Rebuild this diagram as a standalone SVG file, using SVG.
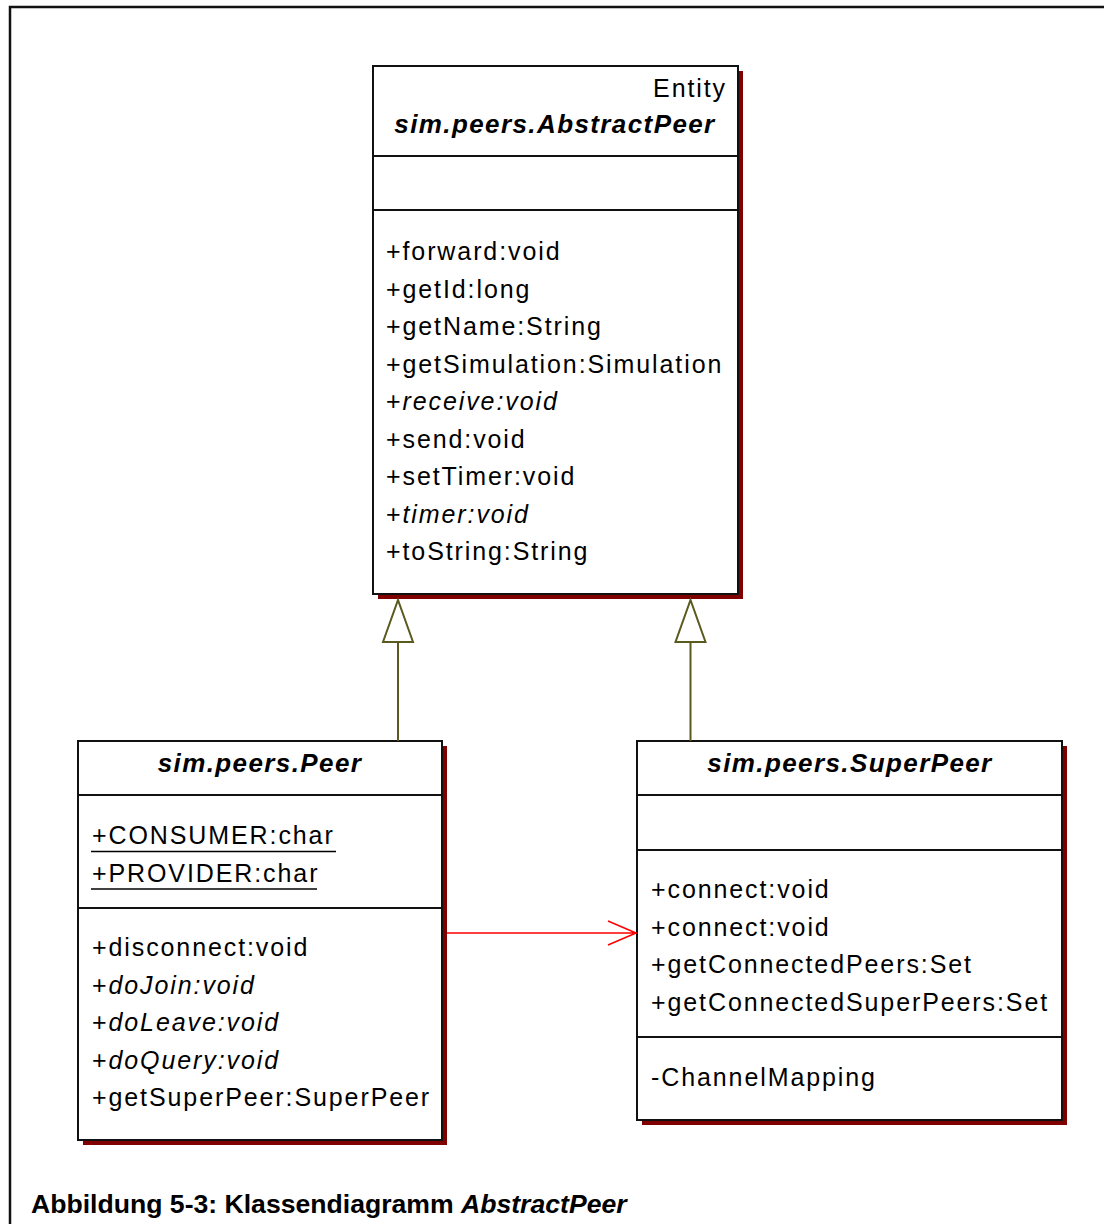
<svg xmlns="http://www.w3.org/2000/svg" width="1104" height="1224" viewBox="0 0 1104 1224">
<style>
.bg{fill:#fff}
.shadow{fill:#800000}
.box{fill:#fff;stroke:#111;stroke-width:2}
.div{stroke:#111;stroke-width:2}
.t{font-family:"Liberation Sans",Arial,sans-serif;font-size:25px;letter-spacing:1.9px;fill:#000}
.i{font-style:italic}
.title{font-family:"Liberation Sans",Arial,sans-serif;font-size:26px;font-weight:bold;font-style:italic;letter-spacing:1.4px;fill:#000;text-anchor:middle}
.ul{stroke:#000;stroke-width:1.5}
.gen{stroke:#5a5a1e;stroke-width:2;fill:none}
.assoc{stroke:#ff0000;stroke-width:1.6;fill:none}
.cap{font-family:"Liberation Sans",Arial,sans-serif;font-size:26.6px;font-weight:bold;fill:#000}
</style>
<rect class="bg" x="0" y="0" width="1104" height="1224"/>
<path d="M10 1224 V7 H1104" fill="none" stroke="#111" stroke-width="2.5"/>

<g id="AbstractPeer">
<rect class="shadow" x="378" y="71" width="365" height="528"/>
<rect class="box" x="373" y="66" width="365" height="528"/>
<line class="div" x1="373" y1="156" x2="738" y2="156"/>
<line class="div" x1="373" y1="210" x2="738" y2="210"/>
<text class="t" x="727" y="97" text-anchor="end" letter-spacing="0.5">Entity</text>
<text class="title" x="555" y="133">sim.peers.AbstractPeer</text>
<text class="t" x="386" y="260">+forward:void</text>
<text class="t" x="386" y="297.5">+getId:long</text>
<text class="t" x="386" y="335">+getName:String</text>
<text class="t" x="386" y="372.5">+getSimulation:Simulation</text>
<text class="t" x="386" y="410">+<tspan class="i">receive:void</tspan></text>
<text class="t" x="386" y="447.5">+send:void</text>
<text class="t" x="386" y="485">+setTimer:void</text>
<text class="t" x="386" y="522.5">+<tspan class="i">timer:void</tspan></text>
<text class="t" x="386" y="560">+toString:String</text>
</g>

<g id="Peer">
<rect class="shadow" x="83" y="746" width="364" height="399"/>
<rect class="box" x="78" y="741" width="364" height="399"/>
<line class="div" x1="78" y1="795" x2="442" y2="795"/>
<line class="div" x1="78" y1="908" x2="442" y2="908"/>
<text class="title" x="260" y="772">sim.peers.Peer</text>
<text class="t" x="92" y="844">+CONSUMER:char</text>
<line class="ul" x1="91" y1="851.5" x2="336" y2="851.5"/>
<text class="t" x="92" y="881.5">+PROVIDER:char</text>
<line class="ul" x1="91" y1="889" x2="317" y2="889"/>
<text class="t" x="92" y="956">+disconnect:void</text>
<text class="t" x="92" y="994">+<tspan class="i">doJoin:void</tspan></text>
<text class="t" x="92" y="1031">+<tspan class="i">doLeave:void</tspan></text>
<text class="t" x="92" y="1069">+<tspan class="i">doQuery:void</tspan></text>
<text class="t" x="92" y="1106">+getSuperPeer:SuperPeer</text>
</g>

<g id="SuperPeer">
<rect class="shadow" x="642" y="746" width="425" height="379"/>
<rect class="box" x="637" y="741" width="425" height="379"/>
<line class="div" x1="637" y1="795" x2="1062" y2="795"/>
<line class="div" x1="637" y1="850" x2="1062" y2="850"/>
<line class="div" x1="637" y1="1037" x2="1062" y2="1037"/>
<text class="title" x="850" y="772">sim.peers.SuperPeer</text>
<text class="t" x="651" y="898">+connect:void</text>
<text class="t" x="651" y="936">+connect:void</text>
<text class="t" x="651" y="973">+getConnectedPeers:Set</text>
<text class="t" x="651" y="1011">+getConnectedSuperPeers:Set</text>
<text class="t" x="651" y="1086">-ChannelMapping</text>
</g>

<g id="connectors">
<path class="gen" d="M398 741 V642 M383 642 H413 L398 600 Z"/>
<path class="gen" d="M690.5 741 V642 M675.5 642 H705.5 L690.5 600 Z"/>
<path class="assoc" d="M447 933 H636 M608 921 L636 933 L608 945"/>
</g>

<text class="cap" x="31" y="1213">Abbildung 5-3: Klassendiagramm <tspan font-style="italic">AbstractPeer</tspan></text>
</svg>
